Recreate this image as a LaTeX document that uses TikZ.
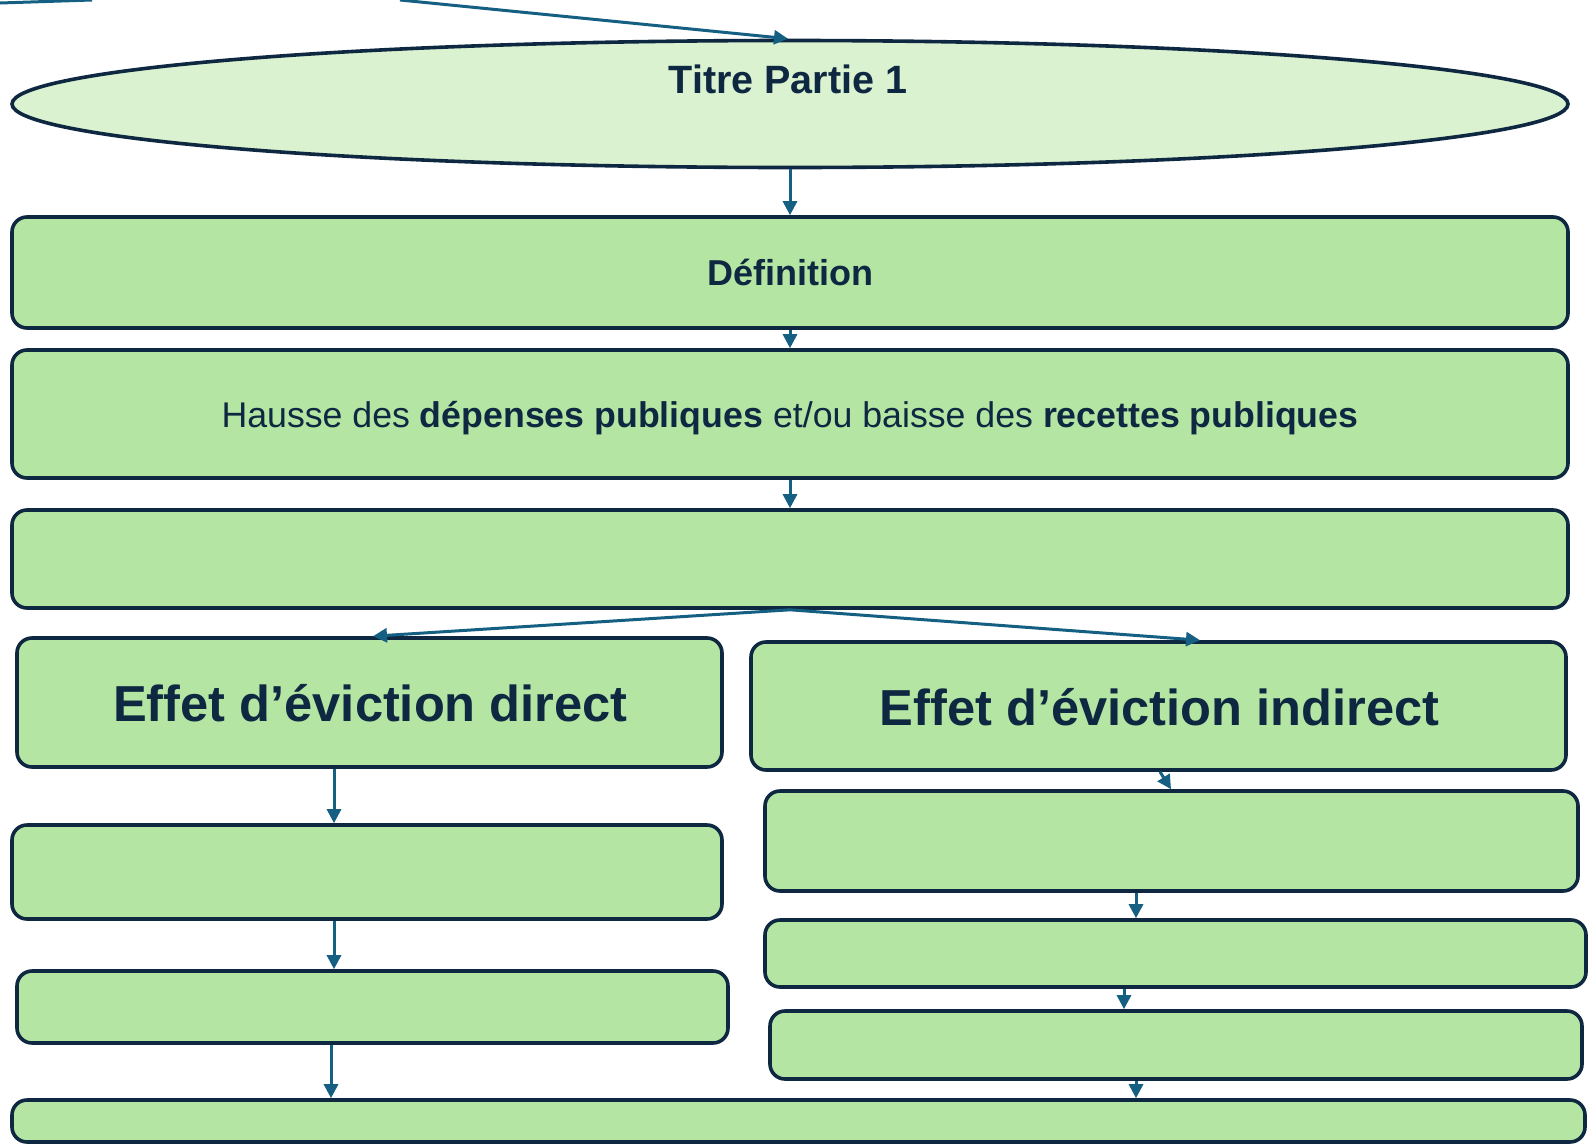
\documentclass[tikz,border=0pt]{standalone}
\usepackage{fontspec}
\setmainfont{Liberation Sans}
\usetikzlibrary{arrows.meta,shapes.geometric}
\definecolor{boxfill}{HTML}{B4E5A2}
\definecolor{ellfill}{HTML}{DAF2D0}
\definecolor{edge}{HTML}{0E2841}
\definecolor{arrowc}{HTML}{156082}
\tikzset{
  box/.style={draw=edge, fill=boxfill, line width=3.6pt, rounded corners=15pt, inner sep=0pt},
  flow/.style={draw=arrowc, line width=3pt, -{Triangle[length=14pt,width=14pt]}},
  txt/.style={anchor=base, text=edge, inner sep=0pt},
}
\newcommand{\mybox}[5]{% name, x1, y1, x2, y2
  \node[box, minimum width={#4-#2}, minimum height={#5-#3}] (#1) at ({(#2+#4)/2},{(#3+#5)/2}) {};}
\begin{document}
\begin{tikzpicture}[x=1pt,y=-1pt]
\useasboundingbox (0,0) rectangle (1588,1146);
% title ellipse
\node[ellipse, draw=edge, fill=ellfill, line width=3.6pt, minimum width=1556pt, minimum height=127pt, inner sep=0pt] (ell) at (790,104) {};
\node[txt, font=\fontsize{39.5}{42}\selectfont\bfseries] (ttl) at (788,93) {Titre Partie 1};
% boxes
\mybox{def}{12}{217}{1568}{328}
\mybox{hausse}{12}{350}{1568}{478}
\mybox{mid}{12}{510}{1568}{608}
\mybox{direct}{17}{638}{722}{767}
\mybox{indirect}{751}{642}{1566}{770}
\mybox{lone}{12}{825}{722}{919}
\mybox{ltwo}{17}{971}{728}{1043}
\mybox{rone}{765}{791}{1578}{891}
\mybox{rtwo}{765}{920}{1586}{987}
\mybox{rthree}{770}{1011}{1582}{1079}
\mybox{bottom}{12}{1100}{1585}{1142}
% texts
\node[txt, font=\fontsize{36}{40}\selectfont\bfseries] (deft) at (790,285) {Définition};
\node[txt, font=\fontsize{35.7}{40}\selectfont] (hausset) at (790,427) {Hausse des \textbf{dépenses publiques} et/ou baisse des \textbf{recettes publiques}};
\node[txt, font=\fontsize{50.6}{56}\selectfont\bfseries] (directt) at (370.5,721) {Effet d’éviction direct};
\node[txt, font=\fontsize{50.6}{56}\selectfont\bfseries] (indirectt) at (1159.5,725) {Effet d’éviction indirect};
% incoming lines from above
\coordinate (srcA) at (400,0);
\coordinate (srcB) at (0,3);
\coordinate (srcC) at (92,0);
\draw[flow] (srcA) -- (ell.north -| 788,0);
\draw[arrowc, line width=3pt] (srcB) -- (srcC);
% connectors
\draw[flow] (ell.south) -- (def.north);
\draw[flow] (def.south) -- (hausse.north);
\draw[flow] (hausse.south) -- (mid.north);
\draw[flow] (mid.south) -- (direct.north -| 373,0);
\draw[flow] (mid.south) -- (indirect.north -| 1200,0);
\draw[flow] (direct.south -| 334,0) -- (lone.north -| 334,0);
\draw[flow] (lone.south -| 334,0) -- (ltwo.north -| 334,0);
\draw[flow] (ltwo.south -| 331,0) -- (bottom.north -| 331,0);
\draw[flow] (indirect.south -| 1160,0) -- (rone.north -| 1171,0);
\draw[flow] (rone.south -| 1136,0) -- (rtwo.north -| 1136,0);
\draw[flow] (rtwo.south -| 1124,0) -- (rthree.north -| 1124,0);
\draw[flow] (rthree.south -| 1136,0) -- (bottom.north -| 1136,0);
\end{tikzpicture}
\end{document}
